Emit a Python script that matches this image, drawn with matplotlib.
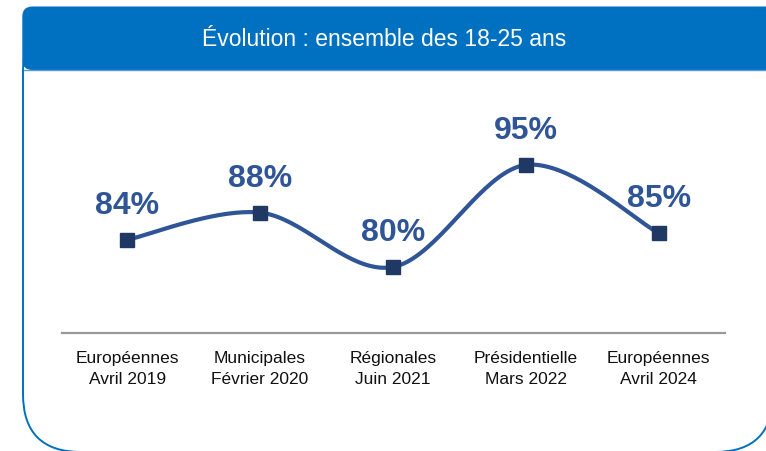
import numpy as np
import matplotlib
matplotlib.use("Agg")
import matplotlib.pyplot as plt
from matplotlib.patches import FancyBboxPatch

# données
categories = [
    "Européennes\nAvril 2019",
    "Municipales\nFévrier 2020",
    "Régionales\nJuin 2021",
    "Présidentielle\nMars 2022",
    "Européennes\nAvril 2024",
]
values = [84, 88, 80, 95, 85]
title = "Évolution : ensemble des 18-25 ans"

BLUE_HEAD = "#0070C0"
LINE_COL = "#2F5597"
MARK_COL = "#1F3864"
SANS = ["Liberation Sans", "DejaVu Sans"]

W, H = 766, 452
fig = plt.figure(figsize=(W / 100, H / 100), dpi=100)

# fond : carte arrondie + bandeau titre (coordonnées en pixels)
bg = fig.add_axes([0, 0, 1, 1])
bg.set_xlim(0, W)
bg.set_ylim(H, 0)
bg.axis("off")
# le haut de la carte est caché sous le bandeau
card = FancyBboxPatch((23, 14), 750, 439, boxstyle="round,pad=0,rounding_size=58",
                      facecolor="white", edgecolor=BLUE_HEAD, linewidth=1.4)
bg.add_patch(card)
head = FancyBboxPatch((22.3, 7.5), 762, 63.5, boxstyle="round,pad=0,rounding_size=10",
                      facecolor=BLUE_HEAD, edgecolor="none")
bg.add_patch(head)
bg.plot([24, W], [71, 71], color="#5B9BD5", lw=1)
bg.text(384, 40, title, color="white", fontsize=16.5, family=SANS,
        ha="center", va="center")


def smooth(xs, ys, n=40):
    # courbe lissée type Excel (bezier, tension 1/6)
    pts = np.column_stack([xs, ys]).astype(float)
    out = []
    for i in range(len(pts) - 1):
        p0 = pts[max(i - 1, 0)]
        p1 = pts[i]
        p2 = pts[i + 1]
        p3 = pts[min(i + 2, len(pts) - 1)]
        c1 = p1 + (p2 - p0) / 6
        c2 = p2 - (p3 - p1) / 6
        t = np.linspace(0, 1, n)[:, None]
        seg = ((1 - t) ** 3) * p1 + 3 * ((1 - t) ** 2) * t * c1 + 3 * (1 - t) * t ** 2 * c2 + t ** 3 * p2
        out.append(seg if i == 0 else seg[1:])
    out = np.vstack(out)
    return out[:, 0], out[:, 1]


ax = fig.add_axes([62 / W, 1 - 334 / H, 663 / W, 234 / H])
ax.patch.set_alpha(0)
x = np.arange(len(values))
sx, sy = smooth(x, values)
ax.plot(sx, sy, color=LINE_COL, lw=3, solid_capstyle="round", zorder=2)
ax.plot(x, values, ls="none", marker="s", ms=10, color=MARK_COL, zorder=3)
for xi, v in zip(x, values):
    ax.annotate(f"{v}%", (xi, v), xytext=(0, 25), textcoords="offset points",
                ha="center", va="center", fontsize=23, fontweight="bold",
                color=LINE_COL, family=SANS)

ax.set_xlim(-0.49, 4.5)
ax.set_ylim(70.3, 104.7)
ax.set_yticks([])
ax.set_xticks(x)
ax.set_xticklabels(categories, family=SANS, fontsize=12.5, color="#111111",
                   linespacing=1.55)
ax.tick_params(axis="x", length=0, pad=12)
for s in ["top", "right", "left"]:
    ax.spines[s].set_visible(False)
ax.spines["bottom"].set_color("#999999")
ax.spines["bottom"].set_linewidth(1.6)

fig.savefig("out.png", dpi=100)
